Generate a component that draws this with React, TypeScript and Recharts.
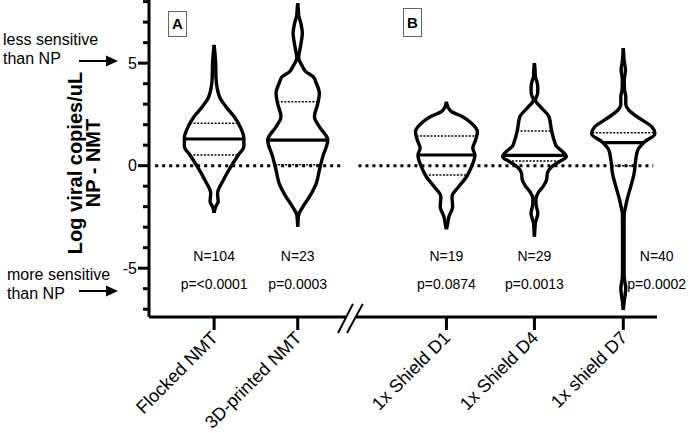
import React from 'react';
import {
  ComposedChart,
  Line,
  XAxis,
  YAxis,
  ReferenceLine,
  ReferenceDot,
  Customized,
} from 'recharts';

// groups on the x axis
const groups = ['Flocked NMT', '3D-printed NMT', '1x Shield D1', '1x Shield D4', '1x shield D7'];
const nLabels = ['N=104', 'N=23', 'N=19', 'N=29', 'N=40'];
const pLabels = ['p=<0.0001', 'p=0.0003', 'p=0.0874', 'p=0.0013', 'p=0.0002'];

// summary lines (log copies/uL, NP - NMT)
const medians = [1.3, 1.25, 0.52, 0.5, 1.12];
const upperQuartiles = [2.07, 3.12, 1.45, 1.69, 1.61];
const lowerQuartiles = [0.52, 0.04, -0.45, 0.23, 0.0];

// violin outlines: level (y value) and relative density at that level
const flockedLevel = [-2.3, -2.0, -1.76, -1.35, -0.7, -0.05, 0.52, 0.93, 1.34, 1.9, 2.39, 2.88, 3.3, 3.69, 4.3, 5.0, 5.89];
const flockedDensity = [0, 0.05, 0.13, 0.11, 0.3, 0.54, 0.78, 0.96, 0.96, 0.84, 0.65, 0.38, 0.19, 0.11, 0.06, 0.05, 0];

const printedLevel = [-2.97, -2.4, -2.0, -1.51, -0.86, -0.21, 0.44, 1.25, 1.9, 2.39, 3.04, 3.53, 4.02, 4.34, 4.6, 4.85, 5.1, 5.25, 5.9, 6.47, 6.95, 7.35, 7.6, 7.92];
const printedDensity = [0, 0.03, 0.17, 0.38, 0.6, 0.7, 0.81, 0.97, 0.7, 0.54, 0.65, 0.7, 0.6, 0.5, 0.25, 0.15, 0.06, 0.03, 0.1, 0.15, 0.1, 0.03, 0.02, 0];

const d1Level = [-3.1, -2.98, -2.49, -2.0, -1.51, -1.02, -0.54, -0.05, 0.52, 0.85, 1.25, 1.66, 2.07, 2.39, 2.63, 2.85, 3.12];
const d1Density = [0, 0.02, 0.08, 0.2, 0.18, 0.4, 0.65, 0.81, 0.92, 0.85, 0.94, 1.0, 0.81, 0.52, 0.17, 0.05, 0];

const d4Level = [-3.46, -3.0, -2.8, -2.32, -1.85, -1.6, -1.3, -1.0, -0.7, -0.35, -0.05, 0.2, 0.44, 0.7, 0.95, 1.17, 1.74, 2.39, 2.8, 3.1, 3.2, 3.5, 3.78, 4.1, 4.34, 4.7, 5.0];
const d4Density = [0, 0.02, 0.03, 0.11, 0.05, 0.05, 0.13, 0.29, 0.39, 0.42, 0.56, 0.81, 1.03, 0.9, 0.71, 0.65, 0.55, 0.47, 0.24, 0.06, 0.03, 0.1, 0.11, 0.08, 0.03, 0.02, 0];

const d7Level = [-7.04, -6.6, -5.98, -5.45, -5.0, -3.0, -2.3, -2.16, -1.67, -1.02, -0.37, 0.28, 0.77, 1.17, 1.55, 1.9, 2.23, 2.72, 3.0, 3.37, 3.7, 4.18, 4.67, 5.1, 5.73];
const d7Density = [0, 0.03, 0.08, 0.03, 0.025, 0.025, 0.03, 0.05, 0.12, 0.24, 0.35, 0.4, 0.47, 0.69, 1.02, 0.92, 0.6, 0.17, 0.08, 0.08, 0.04, 0.03, 0.07, 0.03, 0];

const levels = [flockedLevel, printedLevel, d1Level, d4Level, d7Level];
const densities = [flockedDensity, printedDensity, d1Density, d4Density, d7Density];

const yTicks = [-7, -6, -5, -4, -3, -2, -1, 0, 1, 2, 3, 4, 5, 6, 7, 8];

// layout
const FONT = 'Liberation Sans, Arial, sans-serif';
const slotX = [0.74, 1.69, 3.38, 4.38, 5.39];
const X_END = 5.773;
const Y_MIN = -7.38;
const Y_MAX = 8.08;
const HALF = 0.352; // half width of a violin at density 1
const OUTLINE = 3.4;

const side = (g: number, sign: number) =>
  levels[g].map((v, i) => ({ x: slotX[g] + sign * densities[g][i] * HALF, y: v }));

const widthAt = (g: number, v: number) => {
  const lv = levels[g];
  const dn = densities[g];
  for (let i = 1; i < lv.length; i++) {
    if (v <= lv[i]) {
      const t = (v - lv[i - 1]) / (lv[i] - lv[i - 1]);
      return (dn[i - 1] + t * (dn[i] - dn[i - 1])) * HALF;
    }
  }
  return 0;
};

const across = (g: number, v: number) => {
  const w = widthAt(g, v);
  return [
    { x: slotX[g] - w, y: v },
    { x: slotX[g] + w, y: v },
  ];
};

const YTick = (props: any) => {
  const { x, y, payload } = props;
  const major = payload.value % 5 === 0;
  return (
    <g>
      <line x1={x - (major ? 11 : 6)} x2={x} y1={y} y2={y} stroke="#000" strokeWidth={3} />
      {major && (
        <text x={x - 12} y={y} dy="0.36em" textAnchor="end" fontSize={16} fill="#000" style={{ fontFamily: FONT }}>
          {payload.value}
        </text>
      )}
    </g>
  );
};

const XTick = (props: any) => {
  const { x, y, payload } = props;
  const idx = slotX.indexOf(payload.value);
  const tx = x + 5;
  const ty = y + 22;
  return (
    <g>
      <line x1={x} x2={x} y1={y} y2={y + 13} stroke="#000" strokeWidth={3} />
      <text
        x={tx}
        y={ty}
        textAnchor="end"
        fontSize={18}
        fill="#000"
        style={{ fontFamily: FONT }}
        transform={`rotate(-45, ${tx}, ${ty})`}
      >
        {groups[idx]}
      </text>
    </g>
  );
};

const Annotations = () => (
  <g style={{ fontFamily: FONT }} fill="#000">
    <text x={3} y={45} fontSize={16}>less sensitive</text>
    <text x={3} y={64} fontSize={16}>than NP</text>
    <line x1={79} y1={61} x2={108} y2={61} stroke="#000" strokeWidth={2} />
    <polygon points="106,55.5 118,61 106,66.5" />
    <text x={7} y={280} fontSize={16}>more sensitive</text>
    <text x={7} y={299} fontSize={16}>than NP</text>
    <line x1={79} y1={291} x2={108} y2={291} stroke="#000" strokeWidth={2} />
    <polygon points="106,285.5 118,291 106,296.5" />
    <text transform="rotate(-90, 82, 163)" x={82} y={163} textAnchor="middle" fontSize={20} fontWeight="bold">
      Log viral copies/uL
    </text>
    <text transform="rotate(-90, 100, 163)" x={100} y={163} textAnchor="middle" fontSize={20} fontWeight="bold">
      NP - NMT
    </text>
    <rect x={168.5} y={11.5} width={18} height={25} fill="#fff" stroke="#666" strokeWidth={1} />
    <text x={177.5} y={29} textAnchor="middle" fontSize={15} fontWeight="bold">A</text>
    <rect x={403.5} y={8.5} width={18} height={28} fill="#fff" stroke="#666" strokeWidth={1} />
    <text x={412.5} y={28} textAnchor="middle" fontSize={15} fontWeight="bold">B</text>
  </g>
);

const App = () => {
  return (
    <div style={{ position: 'absolute', left: 0, top: 0, width: 690, height: 433, background: '#fff', fontFamily: FONT }}>
      <ComposedChart
        width={690}
        height={433}
        margin={{ top: 0, right: 33, bottom: 0, left: 0 }}
        style={{ fontFamily: FONT }}
      >
        <XAxis
          type="number"
          dataKey="x"
          domain={[0, X_END]}
          allowDataOverflow
          ticks={slotX}
          interval={0}
          height={116}
          axisLine={false}
          tickLine={false}
          tickSize={0}
          tickMargin={0}
          tick={<XTick />}
        />
        <YAxis
          type="number"
          dataKey="y"
          domain={[Y_MIN, Y_MAX]}
          allowDataOverflow
          ticks={yTicks}
          interval={0}
          width={149}
          axisLine={{ stroke: '#000', strokeWidth: 3 }}
          tickLine={false}
          tickSize={0}
          tickMargin={0}
          tick={<YTick />}
        />

        {/* broken x axis */}
        <ReferenceLine segment={[{ x: 0, y: Y_MIN }, { x: 2.24, y: Y_MIN }]} stroke="#000" strokeWidth={3} ifOverflow="visible" />
        <ReferenceLine segment={[{ x: 2.35, y: Y_MIN }, { x: X_END, y: Y_MIN }]} stroke="#000" strokeWidth={3} ifOverflow="visible" />
        <ReferenceLine segment={[{ x: 2.148, y: -8.16 }, { x: 2.318, y: -6.74 }]} stroke="#000" strokeWidth={2} ifOverflow="visible" />
        <ReferenceLine segment={[{ x: 2.25, y: -8.16 }, { x: 2.43, y: -6.74 }]} stroke="#000" strokeWidth={2} ifOverflow="visible" />

        {/* zero line */}
        <ReferenceLine segment={[{ x: 0.07, y: 0 }, { x: 2.18, y: 0 }]} stroke="#000" strokeWidth={3} strokeDasharray="3 4" />
        <ReferenceLine segment={[{ x: 2.38, y: 0 }, { x: 5.73, y: 0 }]} stroke="#000" strokeWidth={3} strokeDasharray="3 4" />

        {groups.map((g, i) => (
          <Line key={`r-${g}`} data={side(i, 1)} dataKey="y" type="monotoneY" stroke="#000" strokeWidth={OUTLINE} dot={false} activeDot={false} isAnimationActive={false} />
        ))}
        {groups.map((g, i) => (
          <Line key={`l-${g}`} data={side(i, -1)} dataKey="y" type="monotoneY" stroke="#000" strokeWidth={OUTLINE} dot={false} activeDot={false} isAnimationActive={false} />
        ))}
        {groups.map((g, i) => (
          <Line key={`m-${g}`} data={across(i, medians[i])} dataKey="y" type="linear" stroke="#000" strokeWidth={3.2} dot={false} activeDot={false} isAnimationActive={false} />
        ))}
        {groups.map((g, i) => (
          <Line key={`q3-${g}`} data={across(i, upperQuartiles[i])} dataKey="y" type="linear" stroke="#000" strokeWidth={1.5} strokeDasharray="2 1.5" dot={false} activeDot={false} isAnimationActive={false} />
        ))}
        {groups.map((g, i) => (
          <Line key={`q1-${g}`} data={across(i, lowerQuartiles[i])} dataKey="y" type="linear" stroke="#000" strokeWidth={1.5} strokeDasharray="2 1.5" dot={false} activeDot={false} isAnimationActive={false} />
        ))}

        {groups.map((g, i) => (
          <ReferenceDot
            key={`n-${g}`}
            x={i === 4 ? 5.77 : slotX[i]}
            y={-4.43}
            r={0}
            fill="none"
            stroke="none"
            ifOverflow="visible"
            label={{ value: nLabels[i], position: 'center', fill: '#000', fontSize: 14, fontFamily: FONT }}
          />
        ))}
        {groups.map((g, i) => (
          <ReferenceDot
            key={`p-${g}`}
            x={i === 4 ? 5.77 : slotX[i]}
            y={-5.77}
            r={0}
            fill="none"
            stroke="none"
            ifOverflow="visible"
            label={{ value: pLabels[i], position: 'center', fill: '#000', fontSize: 14, fontFamily: FONT }}
          />
        ))}

        <Customized component={Annotations} />
      </ComposedChart>
    </div>
  );
};

export default App;
